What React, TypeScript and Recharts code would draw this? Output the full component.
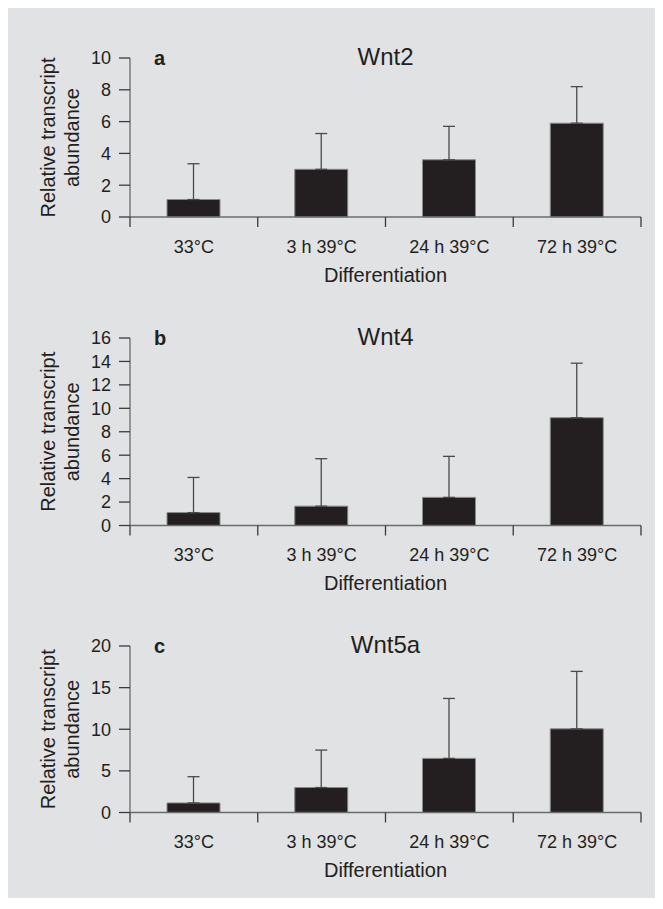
import React from 'react';
import { BarChart, Bar, XAxis, YAxis, ErrorBar, Label } from 'recharts';

// Categories shared by the three panels
const conditions = ['33°C', '3 h 39°C', '24 h 39°C', '72 h 39°C'];

// Wnt2 (panel a)
const wnt2Means = [1.1, 3.0, 3.6, 5.9];
const wnt2Errors = [2.25, 2.25, 2.1, 2.3];
const wnt2Ticks = [0, 2, 4, 6, 8, 10];

// Wnt4 (panel b)
const wnt4Means = [1.1, 1.65, 2.4, 9.2];
const wnt4Errors = [3.0, 4.05, 3.5, 4.65];
const wnt4Ticks = [0, 2, 4, 6, 8, 10, 12, 14, 16];

// Wnt5a (panel c)
const wnt5aMeans = [1.15, 3.0, 6.5, 10.05];
const wnt5aErrors = [3.15, 4.5, 7.2, 6.9];
const wnt5aTicks = [0, 5, 10, 15, 20];

const FONT = '"Liberation Sans", Arial, Helvetica, sans-serif';
const INK = '#231f20';
const AXIS = '#6a6b6d';
const TICK = '#3a3a3a';
const CHART_W = 655;
const MARGIN_LEFT = 32;
const Y_AXIS_W = 90;
const MARGIN_RIGHT = 22;
const MARGIN_BOTTOM = 68;

// label at the band centre, tick marks on the band edges
const CategoryTick = (props: any) => {
  const { x, y, payload, index } = props;
  const half = payload.offset || 0;
  const last = index === conditions.length - 1;
  return (
    <g>
      <line x1={x - half} x2={x - half} y1={y} y2={y + 10} stroke={TICK} strokeWidth={1.3} />
      {last && <line x1={x + half} x2={x + half} y1={y} y2={y + 10} stroke={TICK} strokeWidth={1.3} />}
      <text x={x} y={y + 35.7} textAnchor="middle" fill={INK} fontSize={18} fontFamily={FONT}>
        {payload.value}
      </text>
    </g>
  );
};

const YTitle = (props: any) => {
  const vb = props.viewBox || {};
  const ax = vb.x + vb.width;
  const cy = vb.y + vb.height / 2;
  return (
    <g fill={INK} fontSize={20} fontFamily={FONT}>
      <text x={ax - 75} y={cy} textAnchor="middle" transform={`rotate(-90 ${ax - 75} ${cy})`}>
        Relative transcript
      </text>
      <text x={ax - 51} y={cy} textAnchor="middle" transform={`rotate(-90 ${ax - 51} ${cy})`}>
        abundance
      </text>
    </g>
  );
};

const XTitle = (props: any) => {
  const vb = props.viewBox || {};
  return (
    <text x={vb.x + vb.width / 2} y={vb.y + 64.7} textAnchor="middle" fill={INK} fontSize={20} fontFamily={FONT}>
      Differentiation
    </text>
  );
};

type PanelProps = {
  letter: string;
  title: string;
  means: number[];
  errors: number[];
  ticks: number[];
  top: number;
  plotTop: number;
  plotHeight: number;
};

const Panel = ({ letter, title, means, errors, ticks, top, plotTop, plotHeight }: PanelProps) => {
  const data = conditions.map((c, i) => ({ cond: c, value: means[i], err: [0, errors[i]] }));
  const height = plotTop + plotHeight + MARGIN_BOTTOM + 1;
  const plotLeft = MARGIN_LEFT + Y_AXIS_W;
  const plotRight = CHART_W - MARGIN_RIGHT;
  const yMax = ticks[ticks.length - 1];

  return (
    <div style={{ position: 'absolute', left: 0, top }}>
      <BarChart
        width={CHART_W}
        height={height}
        data={data}
        margin={{ top: plotTop, right: MARGIN_RIGHT, left: MARGIN_LEFT, bottom: MARGIN_BOTTOM }}
      >
        <XAxis
          dataKey="cond"
          interval={0}
          height={1}
          axisLine={{ stroke: AXIS, strokeWidth: 1.3 }}
          tickLine={false}
          tickSize={0}
          tickMargin={0}
          tick={<CategoryTick />}
        >
          <Label content={<XTitle />} />
        </XAxis>
        <YAxis
          width={Y_AXIS_W}
          domain={[0, yMax]}
          ticks={ticks}
          interval={0}
          tickSize={11}
          tickMargin={8}
          fontSize={18}
          axisLine={{ stroke: AXIS, strokeWidth: 1.3 }}
          tickLine={{ stroke: TICK, strokeWidth: 1.3 }}
          tick={{ fill: INK, fontSize: 18, fontFamily: FONT }}
        >
          <Label content={<YTitle />} />
        </YAxis>
        <Bar dataKey="value" barSize={53} fill={INK} stroke="#8a8a8a" strokeWidth={1} isAnimationActive={false}>
          <ErrorBar dataKey="err" width={6} stroke="#4a4a4a" strokeWidth={1.3} direction="y" />
        </Bar>
        <text
          x={(plotLeft + plotRight) / 2}
          y={plotTop + 6.8}
          textAnchor="middle"
          fill={INK}
          fontSize={24}
          fontFamily={FONT}
        >
          {title}
        </text>
        <text x={plotLeft + 24} y={plotTop + 6.8} fill={INK} fontSize={20} fontWeight="bold" fontFamily={FONT}>
          {letter}
        </text>
      </BarChart>
    </div>
  );
};

export default function App() {
  return (
    <div
      style={{
        position: 'relative',
        width: 655,
        height: 890,
        background: '#e1e2e4',
        fontFamily: FONT,
      }}
    >
      <Panel letter="a" title="Wnt2" means={wnt2Means} errors={wnt2Errors} ticks={wnt2Ticks} top={0} plotTop={50} plotHeight={159} />
      <Panel letter="b" title="Wnt4" means={wnt4Means} errors={wnt4Errors} ticks={wnt4Ticks} top={290} plotTop={40} plotHeight={187.5} />
      <Panel letter="c" title="Wnt5a" means={wnt5aMeans} errors={wnt5aErrors} ticks={wnt5aTicks} top={600} plotTop={38} plotHeight={166.5} />
    </div>
  );
}
